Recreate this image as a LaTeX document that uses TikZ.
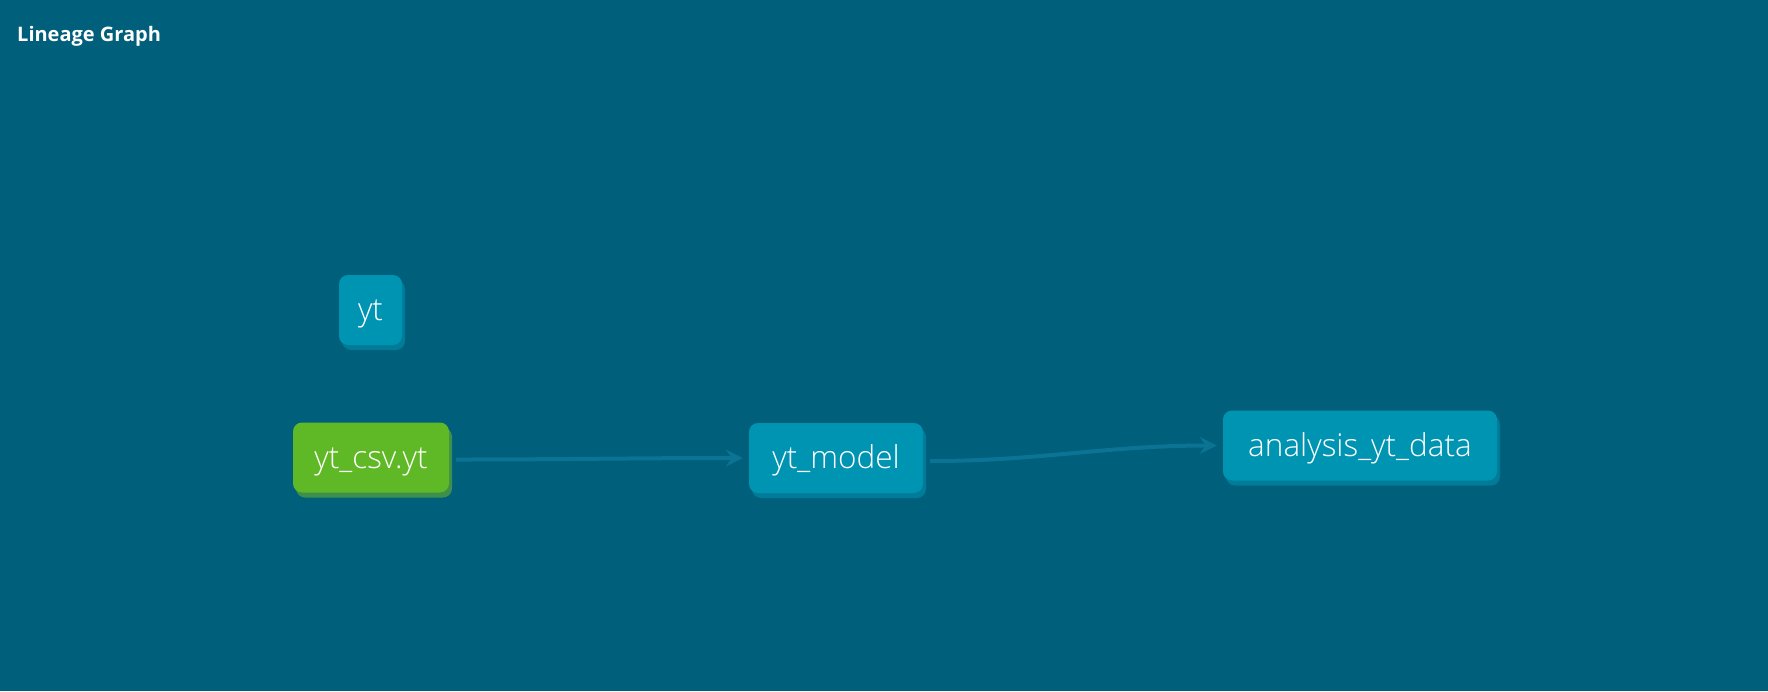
\documentclass[tikz,border=0pt]{standalone}
\usepackage{fontspec}
\setmainfont{Open Sans}
\newfontfamily\lightfont{Open Sans Light}
\usetikzlibrary{arrows.meta, shadows}
\definecolor{bgteal}{HTML}{005F7B}
\definecolor{modelblue}{HTML}{0094B3}
\definecolor{modelshade}{HTML}{007B98}
\definecolor{sourcegreen}{HTML}{5FB825}
\definecolor{sourceshade}{HTML}{3E8F4C}
\definecolor{edgeteal}{HTML}{0B7495}
\begin{document}
\begin{tikzpicture}[x=1pt, y=-1pt,
  lnode/.style={rounded corners=9pt, minimum height=70pt, inner sep=0pt, text height=25pt, text depth=4pt, text=white, font=\lightfont\fontsize{31.5}{36}\selectfont},
  model/.style={lnode, fill=modelblue, drop shadow={shadow xshift=3pt, shadow yshift=-5pt, fill=modelshade, opacity=1}},
  source/.style={lnode, fill=sourcegreen, drop shadow={shadow xshift=3pt, shadow yshift=-5pt, fill=sourceshade, opacity=1}},
  edge/.style={draw=edgeteal, line width=4pt, -{Stealth[length=17pt, width=17pt, inset=6pt]}, shorten <=7pt, shorten >=6pt}]
  \useasboundingbox (0,0) rectangle (1768,691);
  \fill[bgteal] (0,0) rectangle (1768,691);
  \node[anchor=base west, inner sep=0pt, text=white, font=\bfseries\fontsize{20}{24}\selectfont] (title) at (17,41.7) {Lineage Graph};
  % graph nodes
  \node[model, minimum width=63pt] (yt) at (370.5,310) {yt};
  \node[source, minimum width=156pt] (csv) at (371,457.5) {yt\_csv.yt};
  \node[model, minimum width=174pt] (mdl) at (836,458) {yt\_model};
  \node[model, minimum width=274pt] (ana) at (1360,445.5) {analysis\_yt\_data};
  % edges
  \draw[edge] ([yshift=-2pt]csv.east) to[out=0, in=180] (mdl.west);
  \draw[edge] ([yshift=-3pt]mdl.east) to[out=0, in=180] (ana.west);
\end{tikzpicture}
\end{document}
